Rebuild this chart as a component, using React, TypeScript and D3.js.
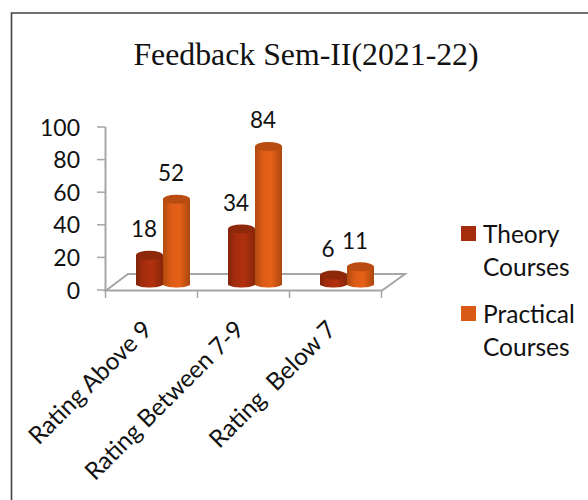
import React from "react";
import * as d3 from "d3";

const categories = ["Rating Above 9", "Rating Between 7-9", "Rating  Below 7"];
const seriesNames = ["Theory Courses", "Practical Courses"];
const theory = [18, 34, 6];
const practical = [52, 84, 11];
const yTicks = [0, 20, 40, 60, 80, 100];
const font = "Lato, Carlito, sans-serif";
const grey = "#a6a6a6";

const y = d3.scaleLinear().domain([0, 100]).range([290, 127]);
const yBar = d3.scaleLinear().domain([0, 100]).range([285, 120]);
const x = d3.scaleBand<string>().domain(categories).range([105.5, 381.5]);
const sub = d3.scaleBand<string>().domain(seriesNames).range([0, 54]);

const Cylinder = ({ cx, v, id, top }: { cx: number; v: number; id: string; top: string }) => {
  const rx = 13.5, ry = 4.5;
  const t = yBar(v), b = yBar(0);
  const path = d3.path();
  path.moveTo(cx - rx, t);
  path.lineTo(cx - rx, b);
  path.bezierCurveTo(cx - rx * 0.6, b + ry * 0.75, cx + rx * 0.6, b + ry * 0.75, cx + rx, b);
  path.lineTo(cx + rx, t);
  path.closePath();
  return (
    <g>
      <path d={path.toString()} fill={`url(#${id})`} />
      <ellipse cx={cx} cy={t} rx={rx} ry={ry} fill={top} />
    </g>
  );
};

export default function App() {
  const barCx = (cat: string, s: string) => (x(cat) as number) + (x.bandwidth() - 54) / 2 + 11.5 + (sub(s) as number) + sub.bandwidth() / 2;
  const rows = [
    { name: seriesNames[0], vals: theory, id: "gTheory", top: "#8d280b" },
    { name: seriesNames[1], vals: practical, id: "gPractical", top: "#b94c10" },
  ];
  return (
    <svg width={588} height={500} style={{ position: "absolute", left: 0, top: 0, background: "#fff" }}>
      <defs>
        <linearGradient id="gTheory">
          <stop offset="0" stopColor="#7f240a" />
          <stop offset="0.25" stopColor="#a32c0d" />
          <stop offset="0.6" stopColor="#b1300e" />
          <stop offset="1" stopColor="#87260a" />
        </linearGradient>
        <linearGradient id="gPractical">
          <stop offset="0" stopColor="#b04b10" />
          <stop offset="0.3" stopColor="#dd5c16" />
          <stop offset="0.6" stopColor="#e66117" />
          <stop offset="1" stopColor="#ab4810" />
        </linearGradient>
      </defs>
      <path d="M11.5 500V13H588" fill="none" stroke="#444" strokeWidth={1.6} />
      <text x={306} y={65} textAnchor="middle" fontFamily="'Liberation Serif', serif" fontSize={31.8} fill="#111">
        Feedback Sem-II(2021-22)
      </text>

      <path d={`M106 290.5L128 274H405L382 290.5Z`} fill="none" stroke={grey} strokeWidth={2} />
      <line x1={105.5} x2={105.5} y1={y(100)} y2={y(0)} stroke={grey} strokeWidth={2} />
      {yTicks.map((t) => (
        <g key={t}>
          <line x1={97} x2={105} y1={y(t)} y2={y(t)} stroke={grey} strokeWidth={1.5} />
          <text x={80} y={y(t) + 8.5} textAnchor="end" fontFamily={font} fontSize={23} fill="#111">{t}</text>
        </g>
      ))}
      {[...categories.map((c) => x(c) as number), 381.5].map((p) => (
        <line key={p} x1={p} x2={p} y1={290} y2={298} stroke={grey} strokeWidth={1.5} />
      ))}

      {rows.map((r) =>
        categories.map((c, i) => (
          <g key={r.name + c}>
            <Cylinder cx={barCx(c, r.name)} v={r.vals[i]} id={r.id} top={r.top} />
            <text x={barCx(c, r.name) - 5.5} y={yBar(r.vals[i]) - 18} textAnchor="middle" fontFamily={font} fontSize={22.5} fill="#111">
              {r.vals[i]}
            </text>
          </g>
        ))
      )}

      {categories.map((c) => (
        <text
          key={c}
          transform={`translate(${(x(c) as number) + x.bandwidth() / 2 + 2},331) rotate(-45)`}
          textAnchor="end"
          fontFamily={font}
          fontSize={24.3}
          fill="#111"
          style={{ whiteSpace: "pre" }}
        >
          {c}
        </text>
      ))}

      {rows.map((r, i) => {
        const ly = 226 + i * 80;
        const [a, b] = r.name.split(" ");
        return (
          <g key={r.name}>
            <rect x={461} y={ly} width={15} height={15} fill={i === 0 ? "#a52d0d" : "#d95a17"} />
            <text x={483} y={ly + 17} fontFamily={font} fontSize={24.5} fill="#111">{a}</text>
            <text x={483} y={ly + 50} fontFamily={font} fontSize={24.5} fill="#111">{b}</text>
          </g>
        );
      })}
    </svg>
  );
}
